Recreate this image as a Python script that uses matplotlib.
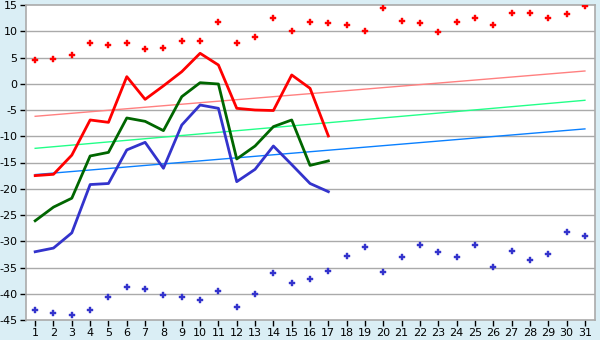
import numpy as np
import matplotlib
matplotlib.use('Agg')
import matplotlib.pyplot as plt

plt.rcParams['axes.unicode_minus'] = False

days = np.arange(1, 32)

max_pts = [4.5, 4.65, 5.4, 7.7, 7.3, 7.7, 6.55, 6.9, 8.1, 8.1, 11.7, 7.7, 8.85, 12.45, 10.0,
           11.7, 11.5, 11.1, 10.0, 14.4, 11.9, 11.5, 9.8, 11.7, 12.45, 11.1, 13.4, 13.4,
           12.45, 13.2, 14.9]
min_pts = [-43.15, -43.7, -44.1, -43.15, -40.7, -38.8, -39.15, -40.3, -40.7, -41.25, -39.5,
           -42.6, -40.1, -36.1, -38.0, -37.25, -35.7, -32.9, -31.15, -35.9, -33.05, -30.8,
           -32.1, -33.05, -30.8, -34.95, -31.9, -33.6, -32.5, -28.3, -29.05]

line_days = np.arange(1, 18)
red_line = [-17.5, -17.25, -13.6, -6.9, -7.35, 1.35, -2.97, -0.4, 2.3, 5.8, 3.57, -4.68,
            -5.0, -5.1, 1.67, -0.87, -9.95]
green_line = [-26.1, -23.5, -21.8, -13.76, -13.07, -6.52, -7.16, -8.93, -2.46, 0.2, -0.05,
              -14.33, -11.86, -8.17, -6.9, -15.55, -14.7]
blue_line = [-32.0, -31.3, -28.4, -19.2, -19.0, -12.6, -11.16, -16.1, -7.86, -4.05, -4.68,
             -18.65, -16.3, -11.86, -15.4, -19.0, -20.56]

# trend lines: value at day 1 and day 31
trend_days = [1, 31]
trend_red = [-6.2, 2.43]
trend_green = [-12.3, -3.15]
trend_blue = [-17.3, -8.6]

fig = plt.figure(figsize=(6, 3.4), dpi=100)
fig.patch.set_facecolor('#daeef5')
ax = fig.add_axes([26 / 600, 1 - 320 / 340, 569 / 600, 315 / 340])
ax.set_facecolor('white')

for y in range(-40, 15, 5):
    ax.axhline(y, color='#aaaaaa', lw=1, zorder=0)

ax.plot(trend_days, trend_red, color='#ff8080', lw=1, zorder=2)
ax.plot(trend_days, trend_green, color='#22ff88', lw=1, zorder=2)
ax.plot(trend_days, trend_blue, color='#0a80ff', lw=1, zorder=2)

ax.plot(line_days, red_line, color='#ff0000', lw=2, zorder=3)
ax.plot(line_days, green_line, color='#006600', lw=2, zorder=3)
ax.plot(line_days, blue_line, color='#3333cc', lw=2, zorder=3)

ax.plot(days, max_pts, ls='none', marker='P', ms=4.5, color='#ff0000', mew=0.3, zorder=4)
ax.plot(days, min_pts, ls='none', marker='P', ms=4.5, color='#3333cc', mew=0.3, zorder=4)

ax.set_xlim(0.5, 31.55)
ax.set_ylim(-45, 15)
ax.set_xticks(days)
ax.set_yticks(range(-45, 16, 5))
ax.tick_params(direction='out', length=4, width=1, color='black', labelsize=8, pad=2)
for s in ax.spines.values():
    s.set_color('#aaaaaa')
    s.set_linewidth(1.2)

fig.savefig('out.png', dpi=100, facecolor=fig.get_facecolor())
